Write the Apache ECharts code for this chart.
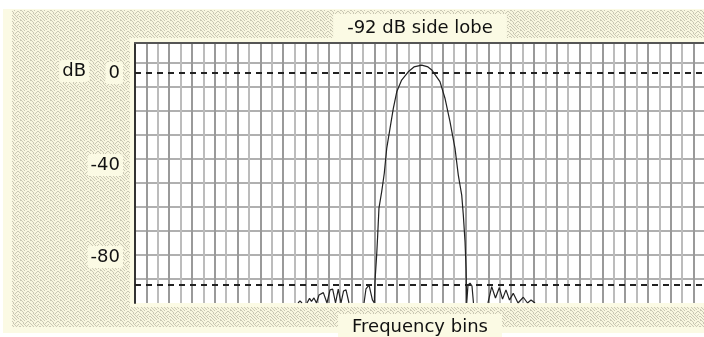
<!DOCTYPE html>
<html>
<head>
<meta charset="utf-8">
<script src="https://cdn.jsdelivr.net/npm/echarts@6/dist/echarts.min.js"></script>
<style>
html,body{margin:0;padding:0;background:#ffffff;}
#c{width:704px;height:337px;}
</style>
</head>
<body>
<div id="c"></div>
<script>
// ---- data ----
const titleText = '-92 dB side lobe';
const xTitle = 'Frequency bins';
const yUnit = 'dB';
const yTickLabels = [0, -40, -80];
const refLevels = [0, -92];
const bins = [
  -10.70, -10.53, -10.35, -10.10,
  -9.91, -9.69, -9.52, -9.30, -9.08, -8.86, -8.48, -8.16, -7.89, -7.66, -7.41, -7.17, -6.93, -6.71, -6.49, -6.23, -5.60,
  -4.91, -4.74, -4.47, -4.30, -4.17,
  -4.01, -3.95, -3.80, -3.71, -3.60, -3.36, -3.13, -2.92, -2.63, -2.34, -2.04, -1.61, -1.03, -0.53, 0.15,
  0.70, 1.03, 1.75, 2.19, 2.63, 3.07, 3.36, 3.66, 3.80, 3.95, 4.04, 4.10,
  4.21, 4.39, 4.56, 4.69, 5.30,
  5.96, 6.29, 6.62, 6.96, 7.24, 7.54, 7.85, 8.18, 8.60, 9.06, 9.43, 9.74, 10.09
];
const levels = [
  -100, -99.1, -100, null,
  -100, -98.0, -99.3, -97.8, -100, -96.5, -95.5, -100, -94.3, -94.0, -100, -94.0, -100, -94.8, -94.3, -100, null,
  -100, -93.9, -92.2, -92.6, -98.7,
  -100, -90.7, -79.1, -70.4, -58.8, -51.6, -43.5, -32.8, -24.1, -15.4, -8.2, -3.1, 0.5, 2.6, 3.4,
  2.6, 1.3, -3.8, -11.0, -21.2, -32.8, -44.4, -53.1, -61.8, -73.4, -84.9, -100,
  -92.2, -91.4, -92.6, -100, null,
  -100, -92.9, -97.8, -93.3, -98.3, -94.3, -98.7, -95.8, -100, -97.5, -100, -98.7, -100
];

// ---- styling ----
const cream = '#FBFAE4';
const FONT = 'DejaVu Sans';
function makeTexture(){
  const c = document.createElement('canvas');
  c.width = 10; c.height = 10;
  const g = c.getContext('2d');
  g.fillStyle = '#F8F6DF'; g.fillRect(0,0,10,10);
  g.fillStyle = '#CAC8B4';
  const on = [[0,0],[1,0],[4,0],[2,1],[7,1],[8,1],[3,2],[6,2],[9,2],[0,3],[3,3],[5,3],[1,4],[4,4],[8,4],
              [2,5],[5,5],[7,5],[0,6],[3,6],[6,6],[9,6],[1,7],[4,7],[7,7],[2,8],[5,8],[8,8],[0,9],[3,9],[6,9]];
  on.forEach(p => g.fillRect(p[0], p[1], 1, 1));
  return c;
}
const texture = makeTexture();

const chart = echarts.init(document.getElementById('c'), null, {renderer:'canvas'});
const textBase = {fontFamily: FONT, fontSize: 18, color: '#111'};
const hLineColors = ['rgba(0,0,0,0)'].concat(new Array(12).fill('#b0b0b0'));

chart.setOption({
  animation: false,
  backgroundColor: '#ffffff',
  graphic: [
    {type:'rect', z:-30, silent:true, shape:{x:3,y:9,width:701,height:324}, style:{fill:cream}},
    {type:'rect', z:-29, silent:true, shape:{x:12,y:10,width:692,height:317}, style:{fill:{image:texture, repeat:'repeat'}}},
    {type:'rect', z:-28, silent:true, shape:{x:130,y:38,width:574,height:269}, style:{fill:cream}},
    {type:'text', z:5, silent:true, style:{text:yUnit, x:89, y:71, align:'right', verticalAlign:'middle',
      font:'18px ' + FONT, fill:'#111', backgroundColor:cream, padding:[2,3], borderRadius:3}}
  ],
  grid: {left:135, top:43, width:570, height:260, show:true, backgroundColor:'#ffffff', borderWidth:0,
    outerBoundsMode:'none', containLabel:false},
  xAxis: [
    {type:'value', min:-25, max:25, interval:1, position:'bottom',
      axisLine:{show:false}, axisTick:{show:false}, axisLabel:{show:false},
      splitLine:{show:true, showMinLine:false, lineStyle:{color:['#9a9a9a','#bcbcbc'], width:2}},
      name: xTitle, nameLocation:'middle', nameGap:11,
      nameTextStyle: Object.assign({}, textBase, {backgroundColor:cream, padding:[4,14,5,14]})},
    {type:'value', min:-25, max:25, position:'top',
      axisLine:{show:true, onZero:false, lineStyle:{color:'#555', width:2}}, axisTick:{show:false}, axisLabel:{show:false},
      splitLine:{show:false},
      name: titleText, nameLocation:'middle', nameGap:0,
      nameTextStyle: Object.assign({}, textBase, {backgroundColor:cream, padding:[5,14,6,14]})}
  ],
  yAxis: [
    {type:'value', min:-100, max:13, interval:20, position:'left',
      axisLine:{show:true, onZero:false, lineStyle:{color:'#333', width:2}}, axisTick:{show:false},
      axisLabel:{customValues: yTickLabels, margin:12, fontFamily:FONT, fontSize:18, color:'#111',
        backgroundColor:cream, padding:[2,3], borderRadius:3},
      splitLine:{show:false}},
    {type:'value', min:0, max:260, interval:24, position:'left',
      axisLine:{show:false}, axisTick:{show:false}, axisLabel:{show:false},
      splitLine:{show:true, lineStyle:{color:hLineColors, width:2}}}
  ],
  series: [{
    type:'line', xAxisIndex:0, yAxisIndex:0, showSymbol:false, symbol:'none', clip:true,
    connectNulls:false,
    lineStyle:{color:'#222', width:1.2},
    data: bins.map((b,i)=>[b, levels[i]]),
    markLine: {silent:true, symbol:'none', label:{show:false},
      lineStyle:{color:'#222', width:2, type:[6,5]},
      data: refLevels.map(v=>({yAxis:v}))},
    z: 5
  }]
});
</script>
</body>
</html>
